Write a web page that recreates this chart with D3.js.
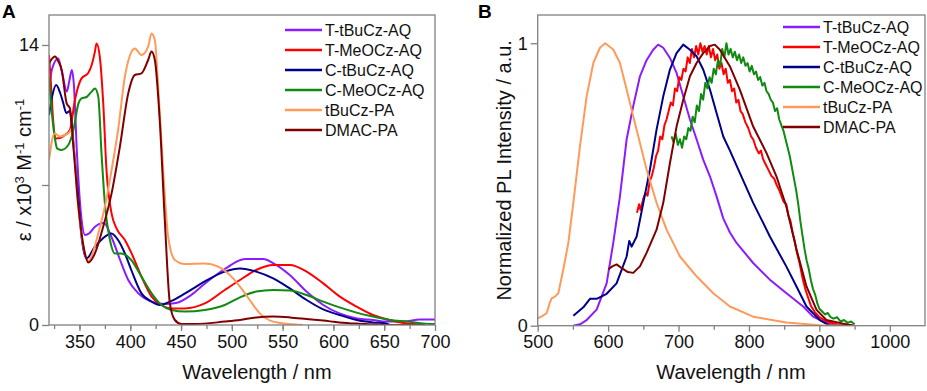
<!DOCTYPE html>
<html lang="en">
<head>
  <meta charset="UTF-8">
  <title>Absorption and PL spectra</title>
  <script src="https://cdn.jsdelivr.net/npm/d3@7"></script>
  <style>
  body{ margin:0; background:#fff; }
  svg{ font-family:"Liberation Sans", Arial, sans-serif; }
  .frame{ fill:none; stroke:#808080; stroke-width:1.3; }
  .tick line{ stroke:#808080; stroke-width:1.3; }
  .domain{ display:none; }
  .tick text{ font-size:18px; fill:#111; }
  .series{ fill:none; stroke-width:2; stroke-linejoin:round; }
  .leg text{ font-size:16px; fill:#111; }
  .title{ font-size:20px; fill:#111; }
  .letter{ font-size:19px; font-weight:bold; fill:#000; }
  </style>
</head>
<body>
<div class="container"></div>
<script>
// legend names + colours
var names = ["T-tBuCz-AQ", "T-MeOCz-AQ", "C-tBuCz-AQ", "C-MeOCz-AQ", "tBuCz-PA", "DMAC-PA"];
var colors = ["#8b1cff", "#ff0000", "#00008b", "#108a10", "#ff9a5a", "#800000"];

// panel A: absorption, [nm, eps x10^3]
var absTtBuCz = [[320,11.8],[323,12.8],[329,13.33],[333,12.6],[337.5,11.67],[340,12.2],[342.5,12.75],[344.5,12.0],[347.5,8.6],[352,5.3],[355.5,4.5],[360,4.6],[365,4.9],[374,5.1],[381.5,4.4],[390,3.25],[398,2.25],[408,1.58],[421,1.17],[434,1.05],[445,1.1],[460,1.5],[473,2.05],[493,2.8],[513,3.3],[531,3.3],[541,3.08],[557,2.5],[573.5,1.67],[590,1.0],[606,0.58],[623,0.33],[639,0.25],[652,0.17],[670,0.17],[685,0.28],[700,0.28]];
var absTMeOCz = [[320,13.5],[322,12.0],[324,10.3],[327,9.33],[331,9.35],[335.7,9.5],[340.6,9.75],[345.5,11.25],[352,12.33],[358.6,12.6],[362,13.0],[365.2,13.67],[366.8,14.08],[370,13.42],[373.4,11.08],[376.6,7.75],[381.6,5.58],[386.5,4.83],[394.7,4.25],[401.3,3.58],[411,2.42],[421,1.42],[430.7,1.0],[440.6,0.83],[453.7,0.83],[473.4,1.08],[493,1.75],[508,2.25],[524,2.75],[540.7,3.0],[557,3.0],[573.6,2.67],[590,2.08],[606.4,1.42],[622.8,0.92],[639,0.5],[655.5,0.25],[672,0.08],[688,0.03]];
var absCtBuCz = [[320,10.5],[323,11.4],[327,12.0],[331,11.6],[334,11.1],[337,10.6],[340.5,10.7],[342,10.2],[345.5,8.25],[349,6.2],[352,4.42],[357,3.33],[365,3.9],[373,4.33],[381.5,4.58],[388,4.25],[394.7,3.58],[401,2.75],[411,1.58],[421,1.17],[429,1.0],[439,1.17],[454,1.58],[473,2.17],[493,2.67],[508,2.83],[524,2.67],[540.7,2.33],[557,1.83],[573.6,1.25],[590,0.78],[606,0.5],[623,0.25],[639,0.13],[652,0.08],[655,0.02]];
var absCMeOCz = [[320,12.42],[323,10.5],[325.9,9.3],[328,8.83],[332,8.75],[339,9.0],[344,9.75],[349,11.08],[352,11.33],[357,11.4],[362,11.67],[365.2,11.83],[368.5,11.42],[371.7,8.58],[375,6.08],[380,4.25],[384.9,3.58],[391,3.58],[401,3.25],[411,2.42],[421,1.58],[430.7,1.0],[440.6,0.75],[453.7,0.67],[473.4,0.75],[493,1.0],[508,1.38],[524,1.67],[540.7,1.75],[557,1.72],[573.6,1.5],[590,1.17],[606,0.88],[622.8,0.62],[639,0.42],[655.5,0.25],[672,0.17],[688,0.08],[700,0.05]];
var absTBuCzPA = [[320,8.25],[325.5,9.58],[330.8,9.42],[335.7,9.5],[340.6,9.67],[342,9.8],[345,8.5],[348,6.3],[352,4.5],[358.6,3.2],[363,3.6],[368.5,4.58],[375,5.92],[381.6,7.75],[388,9.75],[394.7,12.42],[401.3,13.67],[404.5,13.83],[411,13.5],[417.6,13.92],[420.9,14.58],[424.2,14.25],[427.5,11.92],[432.4,7.75],[437.3,4.42],[443.9,3.25],[453.7,3.05],[473.4,3.08],[486.5,2.92],[499.6,2.42],[508,1.92],[517.6,1.25],[527.5,0.58],[540.7,0.17],[557,0.05],[570,0.0]];
var absDMACPA = [[320,13.08],[325.9,13.42],[329,13.2],[332.5,12.75],[337.4,11.08],[340.6,10.83],[344,8.92],[349,5.92],[355.4,3.58],[358.6,3.12],[365.2,3.58],[373.4,4.92],[381.6,6.58],[389.8,8.92],[398,11.58],[404.5,12.5],[411,12.58],[417.6,13.25],[420.9,13.67],[424.2,13.25],[429,10.25],[434,5.25],[439,1.08],[443.9,0.25],[450.4,0.05],[463.5,0.05],[493,0.17],[508,0.25],[524,0.38],[540.7,0.42],[557,0.38],[573.6,0.3],[590,0.22],[606,0.13],[622.8,0.07],[639,0.03],[652,0.0],[690,0.0]];

// panel B: normalized PL, [nm, intensity]
var plTtBuCz = [[550.6,0.0],[560,0.005],[569.5,0.02],[583.7,0.057],[597.9,0.15],[607.3,0.293],[616.8,0.458],[626.3,0.66],[635.7,0.778],[645.2,0.883],[654.6,0.94],[664,0.977],[671,0.995],[678.3,0.984],[687.8,0.948],[697.2,0.895],[706.7,0.812],[716.2,0.73],[725.6,0.66],[735,0.588],[744.6,0.529],[754,0.458],[763.5,0.38],[773,0.33],[782.4,0.293],[806,0.222],[829.7,0.163],[853.3,0.115],[877,0.068],[891,0.032],[910,0.009],[925,0.0]];
var plTMeOCz = [[641,0.40],[644,0.43],[646,0.41],[650,0.45],[653,0.47],[656,0.46],[659,0.51],[662,0.53],[665,0.56],[668,0.60],[671,0.62],[674,0.67],[677,0.66],[680,0.71],[683,0.73],[686,0.76],[689,0.79],[692,0.78],[695,0.84],[698,0.83],[701,0.88],[704,0.87],[707,0.91],[710,0.90],[713,0.95],[716,0.93],[719,0.98],[722,0.95],[725,0.99],[728,0.96],[731,1.0],[734,0.97],[737,0.99],[740,0.96],[743,0.99],[746,0.95],[749,0.98],[752,0.94],[755,0.96],[758,0.91],[761,0.93],[764,0.89],[767,0.91],[770,0.86],[773,0.87],[776,0.83],[779,0.84],[782,0.79],[785,0.80],[788,0.76],[791,0.75],[795,0.72],[799,0.70],[803,0.67],[806,0.66],[810,0.63],[814,0.61],[817,0.62],[820,0.59],[824,0.57],[828,0.55],[832,0.53],[836,0.52],[839,0.50],[843,0.48],[846,0.46],[849,0.44],[853,0.43],[856,0.39],[859,0.37],[862,0.33],[865,0.30],[868,0.26],[872,0.22],[876,0.17],[880,0.13],[884,0.10],[888,0.07],[893,0.05],[900,0.03],[910,0.015],[925,0.005],[950,0.0]];
var plCtBuCz = [[550.6,0.035],[564.8,0.065],[574.2,0.095],[583.7,0.095],[597.9,0.113],[612,0.15],[626.3,0.245],[630,0.3],[633.4,0.28],[640.5,0.316],[650,0.435],[659.4,0.553],[668.8,0.694],[678.3,0.812],[687.8,0.907],[697.2,0.965],[706.7,0.995],[716.2,0.977],[725.6,0.954],[735,0.907],[744.6,0.836],[754,0.753],[763.5,0.67],[773,0.62],[787,0.541],[806,0.435],[829.7,0.316],[853,0.21],[867.5,0.139],[881.7,0.068],[900.6,0.02],[914.8,0.0],[950,0.0]];
var plCMeOCz = [[690,0.67],[693,0.65],[696,0.68],[699,0.64],[702,0.66],[705,0.63],[708,0.67],[711,0.66],[714,0.70],[717,0.69],[720,0.74],[723,0.72],[726,0.78],[729,0.76],[732,0.82],[735,0.80],[738,0.86],[741,0.84],[744,0.88],[747,0.86],[750,0.91],[753,0.89],[756,0.94],[759,0.92],[762,0.98],[765,0.95],[768,1.0],[771,0.96],[774,0.98],[777,0.95],[780,0.97],[783,0.94],[786,0.96],[789,0.93],[792,0.95],[795,0.92],[798,0.93],[801,0.90],[804,0.92],[807,0.89],[810,0.90],[813,0.87],[816,0.88],[819,0.85],[822,0.86],[825,0.83],[828,0.82],[831,0.80],[834,0.79],[837,0.76],[840,0.77],[843,0.73],[846,0.71],[849,0.69],[852,0.66],[855,0.63],[858,0.60],[861,0.56],[864,0.52],[867,0.48],[870,0.43],[873,0.37],[876,0.32],[879,0.27],[882,0.23],[885,0.20],[888,0.16],[891,0.13],[894,0.11],[897,0.08],[900,0.06],[904,0.05],[908,0.04],[912,0.045],[916,0.03],[920,0.025],[925,0.03],[930,0.015],[935,0.02],[940,0.01],[945,0.015],[950,0.005]];
var plTBuCzPA = [[500,0.026],[507,0.035],[512.7,0.044],[517,0.08],[519.8,0.097],[524.5,0.103],[529.3,0.115],[536.4,0.2],[543.5,0.293],[550.6,0.435],[560,0.635],[569.5,0.812],[579,0.93],[588.4,0.984],[596,1.0],[607.3,0.978],[616.8,0.93],[626.3,0.836],[635.7,0.741],[645.2,0.647],[654.6,0.553],[668.8,0.435],[683,0.34],[702,0.245],[725.6,0.175],[749.3,0.115],[773,0.068],[806,0.032],[853,0.011],[900,0.002],[950,0.0]];
var plDMACPA = [[600.3,0.2],[606,0.21],[612,0.217],[621.5,0.2],[628,0.19],[635.7,0.187],[645.2,0.21],[654.6,0.258],[668.8,0.34],[678.3,0.435],[687.8,0.576],[697.2,0.705],[706.7,0.8],[716.2,0.883],[725.6,0.93],[735,0.965],[744.6,0.99],[751.6,0.995],[758.7,0.977],[773,0.918],[787,0.836],[806,0.705],[825,0.611],[839,0.529],[853,0.423],[867.5,0.27],[881.7,0.139],[896,0.056],[910,0.02],[929,0.01],[948,0.0]];

var absSeries = [absTtBuCz, absTMeOCz, absCtBuCz, absCMeOCz, absTBuCzPA, absDMACPA];
var plSeries = [plTtBuCz, plTMeOCz, plCtBuCz, plCMeOCz, plTBuCzPA, plDMACPA];

var w = 927, h = 391;
var svg = d3.select('.container').append('svg').attr('width', w).attr('height', h);

function panel(o){
  var x = d3.scaleLinear().domain(o.xDom).range([o.left, o.right]);
  var y = d3.scaleLinear().domain(o.yDom).range([o.bottom, o.top]);
  var g = svg.append('g');
  var clipId = 'clip' + o.letter;
  svg.append('clipPath').attr('id', clipId).append('rect')
     .attr('x', o.left).attr('y', o.top).attr('width', o.right - o.left).attr('height', o.bottom - o.top);

  // minor ticks, then major
  g.append('g').attr('transform','translate(0,'+o.bottom+')')
   .call(d3.axisBottom(x).tickValues(o.xMinor).tickSize(4).tickFormat(''));
  g.append('g').attr('transform','translate(0,'+o.bottom+')')
   .call(d3.axisBottom(x).tickValues(o.xMajor).tickSize(6).tickPadding(4).tickFormat(d3.format('d')));
  g.append('g').attr('transform','translate('+o.left+',0)')
   .call(d3.axisLeft(y).tickValues(o.yTicks).tickSize(7).tickPadding(3)
        .tickFormat(function(d){ return o.yLabels.indexOf(d) >= 0 ? d : ''; }));

  var line = d3.line().x(function(d){ return x(d[0]); }).y(function(d){ return y(d[1]); }).curve(o.curve);
  g.append('g').attr('clip-path','url(#'+clipId+')')
   .selectAll('path').data(o.series).enter().append('path')
   .attr('class','series').attr('d', line)
   .style('stroke', function(d,i){ return colors[i]; });

  g.append('rect').attr('class','frame')
   .attr('x', o.left).attr('y', o.top).attr('width', o.right - o.left).attr('height', o.bottom - o.top);

  var leg = g.append('g').attr('class','leg').selectAll('g').data(names).enter().append('g')
     .attr('transform', function(d,i){ return 'translate('+o.legX+','+(o.legY + i*20)+')'; });
  leg.append('line').attr('x1',0).attr('x2',37).attr('y1',0).attr('y2',0)
     .style('stroke', function(d,i){ return colors[i]; }).style('stroke-width',2.5);
  leg.append('text').attr('x',40).attr('y',6).text(function(d){ return d; });

  svg.append('text').attr('class','letter').attr('x', o.letterX).attr('y', 18).text(o.letter);
  svg.append('text').attr('class','title').attr('x', o.xTitleX).attr('y', 379)
     .attr('text-anchor','middle').text('Wavelength / nm');
  return svg.append('text').attr('class','title').attr('text-anchor','middle')
     .attr('transform','translate('+o.yTitleX+','+((o.top+o.bottom)/2)+') rotate(-90)');
}

var tA = panel({
  letter:'A', letterX:2, left:49, right:435, top:15, bottom:325,
  xDom:[320,700], yDom:[0,15.5], curve:d3.curveMonotoneX,
  xMajor:[350,400,450,500,550,600,650,700], xMinor:d3.range(325,700,25),
  yTicks:[0,7,14], yLabels:[0,14], series:absSeries,
  legX:285, legY:30, xTitleX:257, yTitleX:31
});
tA.append('tspan').text('ε / x10');
tA.append('tspan').attr('baseline-shift','super').style('font-size','13px').text('3');
tA.append('tspan').text(' M');
tA.append('tspan').attr('baseline-shift','super').style('font-size','13px').text('-1');
tA.append('tspan').text(' cm');
tA.append('tspan').attr('baseline-shift','super').style('font-size','13px').text('-1');

var tB = panel({
  letter:'B', letterX:478, left:537.7, right:925, top:15, bottom:325.7,
  xDom:[500,1050], yDom:[0,1.1], curve:d3.curveLinear,
  xMajor:[500,600,700,800,900,1000], xMinor:d3.range(550,1050,100),
  yTicks:[0,1], yLabels:[0,1], series:plSeries,
  legX:783, legY:27, xTitleX:731, yTitleX:511
});
tB.text('Normalized PL Intensity / a.u.');
</script>
</body>
</html>
